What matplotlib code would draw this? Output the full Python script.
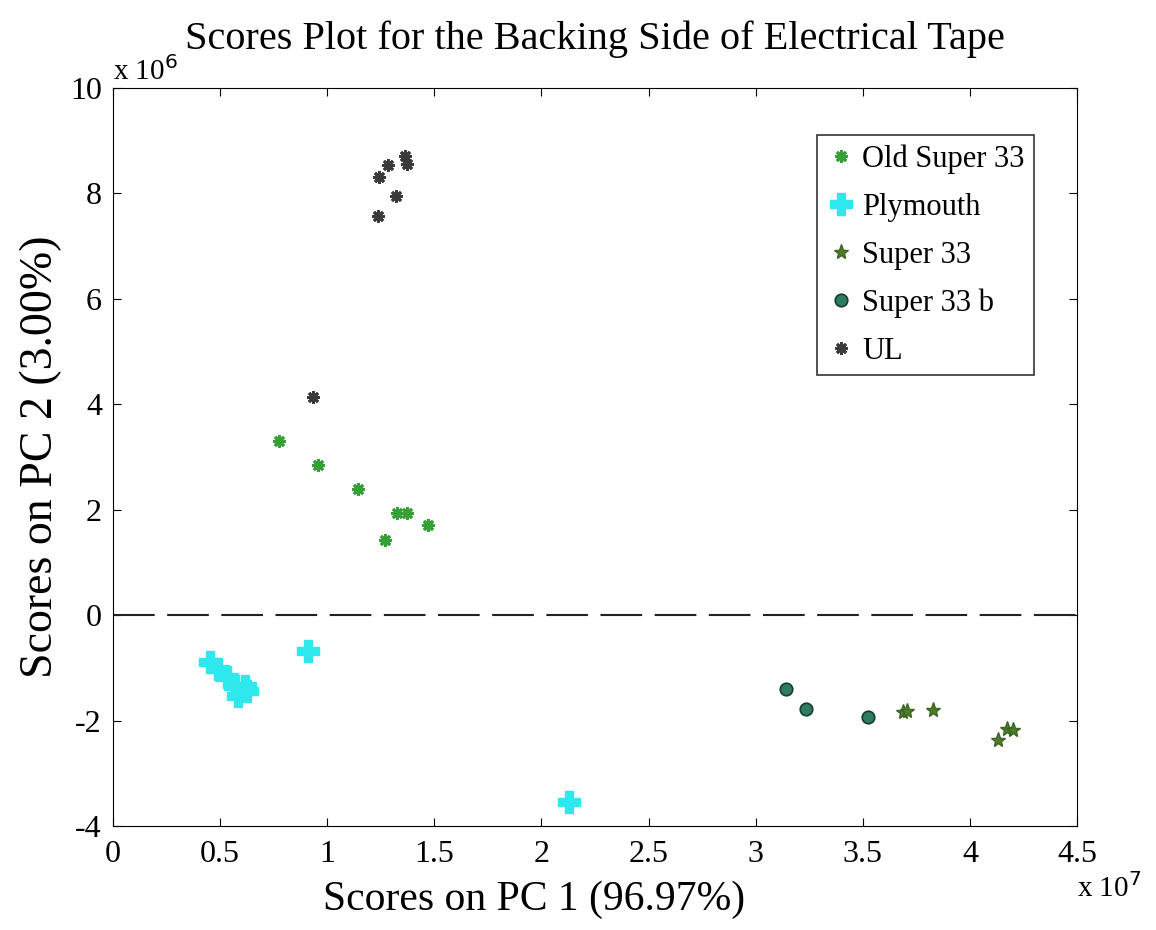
import matplotlib.pyplot as plt
from matplotlib.ticker import FuncFormatter, MultipleLocator

plt.rcParams['font.family'] = ['Liberation Serif', 'DejaVu Serif']

# scores on PC1 (x 1e7) and PC2 (x 1e6)
old33_x = [0.775, 0.957, 1.144, 1.326, 1.373, 1.471, 1.270]
old33_y = [3.30, 2.85, 2.39, 1.94, 1.94, 1.71, 1.42]

ply_x = [0.453, 0.49, 0.532, 0.57, 0.616, 0.584, 0.626, 0.91, 2.129]
ply_y = [-0.89, -1.02, -1.18, -1.35, -1.35, -1.54, -1.44, -0.68, -3.55]

s33_x = [3.69, 3.707, 3.828, 4.174, 4.202, 4.132]
s33_y = [-1.84, -1.82, -1.80, -2.16, -2.18, -2.37]

s33b_x = [3.142, 3.235, 3.525]
s33b_y = [-1.40, -1.78, -1.94]

ul_x = [1.363, 1.373, 1.284, 1.242, 1.321, 1.237, 0.934]
ul_y = [8.71, 8.56, 8.54, 8.31, 7.95, 7.57, 4.14]

fig = plt.figure(figsize=(11.56, 9.30), dpi=100)
ax = fig.add_axes([113/1156, 1 - 826/930, (1077 - 113)/1156, (826 - 88)/930])

star8 = (8, 2, 0)
ax.plot([x * 1e7 for x in old33_x], [y * 1e6 for y in old33_y], ls='none', marker=star8,
        ms=9, mew=2, color='#35a035', label='Old Super 33')
ax.plot([x * 1e7 for x in ply_x], [y * 1e6 for y in ply_y], ls='none', marker='P',
        ms=16, color='#2ee8ee', mec='#2ee8ee', label='Plymouth')
ax.plot([x * 1e7 for x in s33_x], [y * 1e6 for y in s33_y], ls='none', marker='*',
        ms=11, color='#4e7d2a', mec='#3d6420', label='Super 33')
ax.plot([x * 1e7 for x in s33b_x], [y * 1e6 for y in s33b_y], ls='none', marker='o',
        ms=9, color='#2e7a62', mec='#153d30', mew=1.2, label='Super 33 b')
ax.plot([x * 1e7 for x in ul_x], [y * 1e6 for y in ul_y], ls='none', marker=star8,
        ms=9, mew=2, color='#3a3a3a', label='UL')

ax.axhline(0, color='#222222', lw=1.5, ls=(0, (20, 6)))

ax.set_xlim(0, 4.5e7)
ax.set_ylim(-4e6, 10e6)
ax.xaxis.set_major_locator(MultipleLocator(0.5e7))
ax.yaxis.set_major_locator(MultipleLocator(2e6))
ax.xaxis.set_major_formatter(FuncFormatter(lambda v, p: '%g' % (v / 1e7)))
ax.yaxis.set_major_formatter(FuncFormatter(lambda v, p: '%g' % (v / 1e6)))
ax.tick_params(direction='in', top=True, right=True, labelsize=23, length=6)
ax.tick_params(axis='x', pad=10)
ax.tick_params(axis='y', pad=8)

ax.text(0, 1.003, r'x 10$^{6}$', transform=ax.transAxes, fontsize=21, ha='left', va='bottom')
ax.text(1.0, -0.064, r'x 10$^{7}$', transform=ax.transAxes, fontsize=21, ha='left', va='top')

ax.set_title('Scores Plot for the Backing Side of Electrical Tape', fontsize=29, pad=28)
ax.set_xlabel('Scores on PC 1 (96.97%)', fontsize=30, labelpad=8, x=0.437)
ax.set_ylabel('Scores on PC 2 (3.00%)', fontsize=33, labelpad=6)

leg = ax.legend(loc='upper right', fontsize=22, labelspacing=0.62, handletextpad=0.2,
                handlelength=1.0, fancybox=False, edgecolor='black', borderpad=0.3,
                borderaxespad=0, bbox_to_anchor=(0.9554, 0.9363))
leg.get_frame().set_linewidth(1.2)

plt.savefig('out.png', dpi=100)
